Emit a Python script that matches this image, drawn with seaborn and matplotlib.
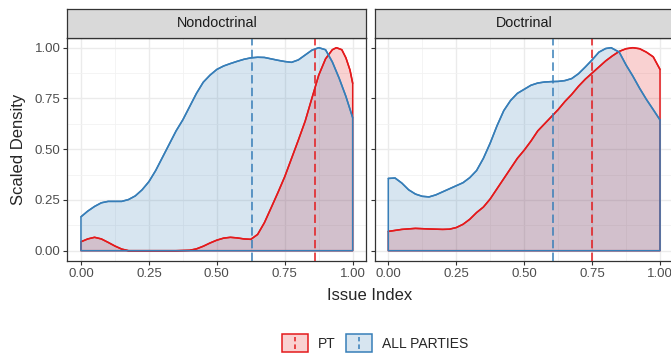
import pandas as pd
import matplotlib
matplotlib.use("Agg")
import matplotlib.pyplot as plt
import seaborn as sns
from matplotlib.patches import Rectangle
from matplotlib.lines import Line2D
from matplotlib.legend_handler import HandlerBase
from matplotlib.colors import to_rgba

# data (scaled density by issue index)
x_nd_all = [0.0, 0.025, 0.05, 0.075, 0.1, 0.125, 0.15, 0.175, 0.2, 0.225, 0.25, 0.275, 0.3, 0.325,
            0.35, 0.375, 0.4, 0.425, 0.45, 0.475, 0.5, 0.525, 0.55, 0.575, 0.6, 0.625, 0.65, 0.675,
            0.7, 0.725, 0.75, 0.775, 0.8, 0.825, 0.85, 0.875, 0.9, 0.925, 0.95, 0.975, 1.0]
y_nd_all = [0.167, 0.195, 0.218, 0.236, 0.243, 0.243, 0.243, 0.252, 0.27, 0.3, 0.34, 0.395, 0.46,
            0.525, 0.59, 0.645, 0.71, 0.775, 0.83, 0.865, 0.893, 0.91, 0.922, 0.933, 0.943, 0.95,
            0.953, 0.952, 0.945, 0.938, 0.932, 0.928, 0.94, 0.964, 0.988, 1.0, 0.99, 0.93, 0.85,
            0.76, 0.655]

x_nd_pt = [0.0, 0.025, 0.05, 0.075, 0.1, 0.125, 0.15, 0.175, 0.2, 0.25, 0.3, 0.35, 0.4, 0.425, 0.45,
           0.475, 0.5, 0.525, 0.55, 0.575, 0.6, 0.625, 0.65, 0.675, 0.7, 0.725, 0.75, 0.775, 0.8,
           0.825, 0.85, 0.875, 0.9, 0.925, 0.94, 0.96, 0.975, 0.99, 1.0]
y_nd_pt = [0.044, 0.058, 0.066, 0.058, 0.041, 0.023, 0.008, 0.0, 0.0, 0.0, 0.0, 0.0, 0.002, 0.009,
           0.022, 0.038, 0.052, 0.062, 0.066, 0.063, 0.058, 0.056, 0.08, 0.138, 0.212, 0.287, 0.365,
           0.455, 0.545, 0.638, 0.752, 0.865, 0.945, 0.99, 1.0, 0.99, 0.95, 0.89, 0.824]

x_d_all = [0.0, 0.025, 0.05, 0.075, 0.1, 0.125, 0.15, 0.175, 0.2, 0.225, 0.25, 0.275, 0.3, 0.325,
           0.35, 0.375, 0.4, 0.425, 0.45, 0.475, 0.5, 0.525, 0.55, 0.575, 0.6, 0.625, 0.65, 0.675,
           0.7, 0.725, 0.75, 0.775, 0.8, 0.82, 0.85, 0.875, 0.9, 0.925, 0.95, 0.975, 1.0]
y_d_all = [0.356, 0.358, 0.333, 0.3, 0.279, 0.268, 0.265, 0.275, 0.29, 0.305, 0.32, 0.335, 0.36,
           0.395, 0.455, 0.53, 0.615, 0.69, 0.74, 0.775, 0.795, 0.815, 0.826, 0.831, 0.833, 0.834,
           0.838, 0.848, 0.872, 0.905, 0.94, 0.978, 0.996, 1.0, 0.978, 0.915, 0.86, 0.8, 0.745,
           0.695, 0.644]

x_d_pt = [0.0, 0.05, 0.1, 0.15, 0.2, 0.225, 0.25, 0.275, 0.3, 0.325, 0.35, 0.375, 0.4, 0.425, 0.45,
          0.475, 0.5, 0.525, 0.55, 0.575, 0.6, 0.625, 0.65, 0.675, 0.7, 0.725, 0.75, 0.775, 0.8,
          0.825, 0.85, 0.875, 0.9, 0.925, 0.95, 0.975, 1.0]
y_d_pt = [0.095, 0.105, 0.11, 0.107, 0.105, 0.106, 0.114, 0.13, 0.155, 0.188, 0.215, 0.255, 0.305,
          0.355, 0.405, 0.455, 0.495, 0.54, 0.59, 0.625, 0.66, 0.695, 0.735, 0.77, 0.81, 0.845,
          0.875, 0.905, 0.935, 0.96, 0.982, 0.995, 1.0, 0.995, 0.978, 0.955, 0.893]

panels = ["Nondoctrinal", "Doctrinal"]
mean_all = [0.628, 0.606]
mean_pt = [0.861, 0.75]
groups = ["PT", "ALL PARTIES"]
colors = {"PT": "#E41A1C", "ALL PARTIES": "#377EB8"}

rows = []
for xs, ys, panel, grp in [(x_nd_pt, y_nd_pt, "Nondoctrinal", "PT"),
                           (x_nd_all, y_nd_all, "Nondoctrinal", "ALL PARTIES"),
                           (x_d_pt, y_d_pt, "Doctrinal", "PT"),
                           (x_d_all, y_d_all, "Doctrinal", "ALL PARTIES")]:
    for a, b in zip(xs, ys):
        rows.append({"x": a, "y": b, "panel": panel, "group": grp})
df = pd.DataFrame(rows)

sns.set_theme(style="white")
plt.rcParams["font.family"] = ["Liberation Sans", "DejaVu Sans"]

fig = plt.figure(figsize=(6.71, 3.55), dpi=100)
ax_w = 0.4455
ax_b, ax_h = 0.2652, 0.629
lefts = [0.1004, 0.5584]
dash = (0, (5.5, 2.8))

for i, panel in enumerate(panels):
    ax = fig.add_axes([lefts[i], ax_b, ax_w, ax_h])
    sub = df[df["panel"] == panel]
    for grp in groups:
        d = sub[sub["group"] == grp]
        c = colors[grp]
        ax.fill_between(d["x"], 0, d["y"], facecolor=to_rgba(c, 0.2), edgecolor="none", zorder=2)
        ax.fill_between(d["x"], 0, d["y"], facecolor="none", edgecolor=c, lw=1.1, zorder=3)
        sns.lineplot(data=d, x="x", y="y", color=c, lw=1.1, estimator=None, ax=ax, zorder=3)
    ax.axvline(mean_all[i], color=colors["ALL PARTIES"], ls=dash, lw=1.1, zorder=4)
    ax.axvline(mean_pt[i], color=colors["PT"], ls=dash, lw=1.1, zorder=4)

    ax.set_xlim(-0.05, 1.05)
    ax.set_ylim(-0.05, 1.05)
    ticks = [0, 0.25, 0.5, 0.75, 1.0]
    ax.set_xticks(ticks)
    ax.set_xticklabels(["0.00", "0.25", "0.50", "0.75", "1.00"])
    ax.set_xticks([0.125, 0.375, 0.625, 0.875], minor=True)
    ax.set_yticks(ticks)
    ax.set_yticks([0.125, 0.375, 0.625, 0.875], minor=True)
    if i == 0:
        ax.set_yticklabels(["0.00", "0.25", "0.50", "0.75", "1.00"])
    else:
        ax.set_yticklabels([])
    ax.grid(True, which="major", color="#EBEBEB", lw=1.0, zorder=0)
    ax.grid(True, which="minor", color="#F2F2F2", lw=0.6, zorder=0)
    ax.set_axisbelow(True)
    ax.tick_params(axis="both", which="major", length=3, width=0.8, color="#333333",
                   labelsize=9.5, labelcolor="#4D4D4D", pad=2, bottom=True, left=True)
    ax.tick_params(axis="both", which="minor", length=0)
    for s in ax.spines.values():
        s.set_color("#333333")
        s.set_linewidth(0.9)
    ax.set_xlabel("")
    ax.set_ylabel("")

    # facet strip
    sax = fig.add_axes([lefts[i], ax_b + ax_h, ax_w, 0.0796])
    sax.set_facecolor("#D9D9D9")
    sax.set_xticks([])
    sax.set_yticks([])
    for s in sax.spines.values():
        s.set_color("#333333")
        s.set_linewidth(0.9)
    sax.text(0.5, 0.5, panel, ha="center", va="center", fontsize=10.3, color="#1A1A1A",
             transform=sax.transAxes)

fig.text(0.027, ax_b + ax_h / 2, "Scaled Density", rotation=90, ha="center", va="center", fontsize=12)
fig.text(370 / 671, 1 - 296 / 355, "Issue Index", ha="center", va="center", fontsize=12)


class KeyHandler(HandlerBase):
    def create_artists(self, legend, orig_handle, xdescent, ydescent, width, height, fontsize, trans):
        c = orig_handle.get_color()
        rect = Rectangle((-xdescent, -ydescent), width, height, facecolor=to_rgba(c, 0.2),
                         edgecolor=c, lw=1.1, transform=trans)
        line = Line2D([-xdescent + width / 2] * 2, [-ydescent + height * 0.15, -ydescent + height * 0.85],
                      color=c, ls=(0, (3, 2)), lw=1.1, transform=trans)
        return [rect, line]


handles = [Line2D([], [], color=colors[g]) for g in groups]
fig.legend(handles, groups, loc="center", bbox_to_anchor=(375 / 671, 1 - 343 / 355), ncol=2,
           frameon=False, fontsize=10, handlelength=1.85, handleheight=1.65, handletextpad=0.7,
           columnspacing=0.8, handler_map={Line2D: KeyHandler()})

fig.savefig("out.png", dpi=100)
